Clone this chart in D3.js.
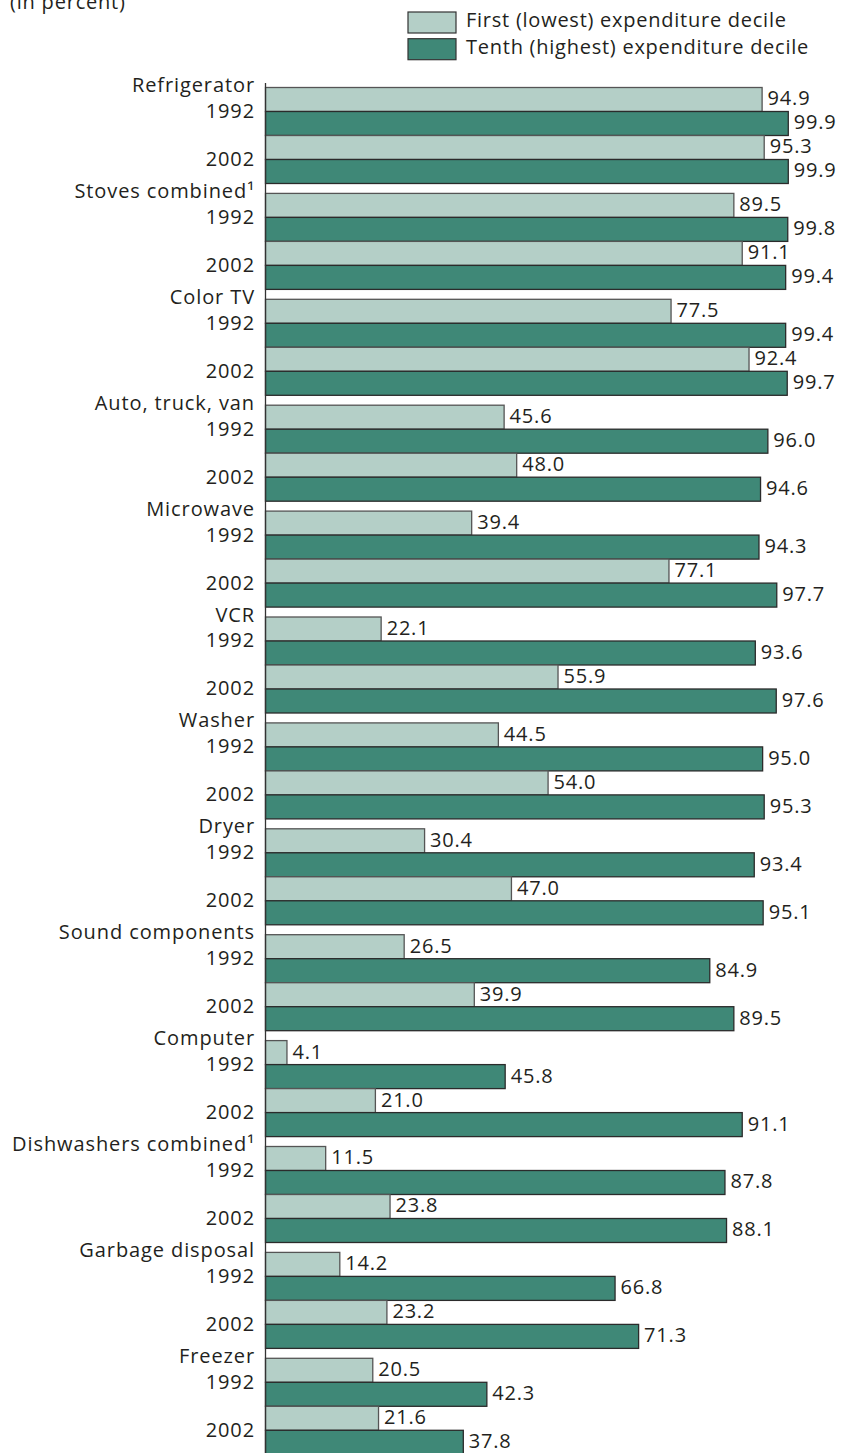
<!DOCTYPE html>
<html>
<head>
<meta charset="utf-8">
<script src="https://cdn.jsdelivr.net/npm/d3@7"></script>
<style>
  body { margin: 0; background: #fff; }
  text { font-family: "Open Sans", sans-serif; fill: #231f20; font-size: 20px; }
</style>
</head>
<body>
<svg id="svg"></svg>
<script>
var width = 843, height = 1453;

// items, top to bottom
var items = ["Refrigerator", "Stoves combined\u00b9", "Color TV", "Auto, truck, van", "Microwave",
  "VCR", "Washer", "Dryer", "Sound components", "Computer", "Dishwashers combined\u00b9",
  "Garbage disposal", "Freezer"];
var years = ["1992", "2002"];
var seriesNames = ["First (lowest) expenditure decile", "Tenth (highest) expenditure decile"];

// first (lowest) decile, [1992, 2002]
var lowest = [[94.9, 95.3], [89.5, 91.1], [77.5, 92.4], [45.6, 48.0], [39.4, 77.1],
  [22.1, 55.9], [44.5, 54.0], [30.4, 47.0], [26.5, 39.9], [4.1, 21.0],
  [11.5, 23.8], [14.2, 23.2], [20.5, 21.6]];
// tenth (highest) decile, [1992, 2002]
var highest = [[99.9, 99.9], [99.8, 99.4], [99.4, 99.7], [96.0, 94.6], [94.3, 97.7],
  [93.6, 97.6], [95.0, 95.3], [93.4, 95.1], [84.9, 89.5], [45.8, 91.1],
  [87.8, 88.1], [66.8, 71.3], [42.3, 37.8]];

var colours = ["#b4cfc7", "#3f8877"];

var svg = d3.select("svg").attr("width", width).attr("height", height);

var x = d3.scaleLinear().domain([0, 100]).range([265.5, 788.8]);

var y = d3.scaleBand()
  .domain(items)
  .range([87.5, 87.5 + 105.9 * (items.length - 0.0935)])
  .paddingInner(0.0935)
  .paddingOuter(0);

var slots = [];
years.forEach(yr => { slots.push(yr + "-0"); slots.push(yr + "-1"); });
var yi = d3.scaleBand().domain(slots).range([0, y.bandwidth()]);

// title (cut at top in original)
svg.append("text")
  .attr("x", 10).attr("y", 8.5)
  .style("letter-spacing", "0.8px")
  .text("(in percent)");

// legend
var lg = svg.append("g").attr("transform", "translate(408,12)");
seriesNames.forEach((s, i) => {
  lg.append("rect")
    .attr("x", 0).attr("y", i * 26.7)
    .attr("width", 48).attr("height", 21)
    .attr("fill", colours[i]).attr("stroke", "#333").attr("stroke-width", 1.2);
  lg.append("text")
    .attr("x", 58).attr("y", i * 26.7 + 15)
    .style("letter-spacing", "0.75px")
    .text(s);
});

var rows = [];
items.forEach((it, i) => {
  years.forEach((yr, j) => {
    rows.push({ item: it, slot: yr + "-0", v: lowest[i][j], s: 0 });
    rows.push({ item: it, slot: yr + "-1", v: highest[i][j], s: 1 });
  });
});

var g = svg.append("g");

g.selectAll("rect.bar")
  .data(rows)
  .enter()
  .append("rect")
  .attr("class", "bar")
  .attr("x", x(0))
  .attr("y", d => y(d.item) + yi(d.slot))
  .attr("width", d => x(d.v) - x(0))
  .attr("height", yi.bandwidth())
  .attr("fill", d => colours[d.s])
  .attr("stroke", d => d.s === 0 ? "#555" : "#2b2b2b")
  .attr("stroke-width", 1.3);

g.selectAll("text.val")
  .data(rows)
  .enter()
  .append("text")
  .attr("class", "val")
  .attr("x", d => x(d.v) + 5.5)
  .attr("y", d => y(d.item) + yi(d.slot) + yi.bandwidth() / 2 + 6)
  .style("letter-spacing", "0.8px")
  .text(d => d.v.toFixed(1));

// category labels
items.forEach(it => {
  g.append("text")
    .attr("x", 255).attr("y", y(it) + 4.5)
    .attr("text-anchor", "end")
    .style("letter-spacing", "0.9px")
    .text(it);
  years.forEach(yr => {
    g.append("text")
      .attr("x", 255).attr("y", y(it) + yi(yr + "-1") + 6.5)
      .attr("text-anchor", "end")
      .style("letter-spacing", "0.9px")
      .text(yr);
  });
});

// axis line
svg.append("line")
  .attr("x1", x(0)).attr("x2", x(0))
  .attr("y1", 83).attr("y2", height)
  .attr("stroke", "#333").attr("stroke-width", 1.3);
</script>
</body>
</html>
